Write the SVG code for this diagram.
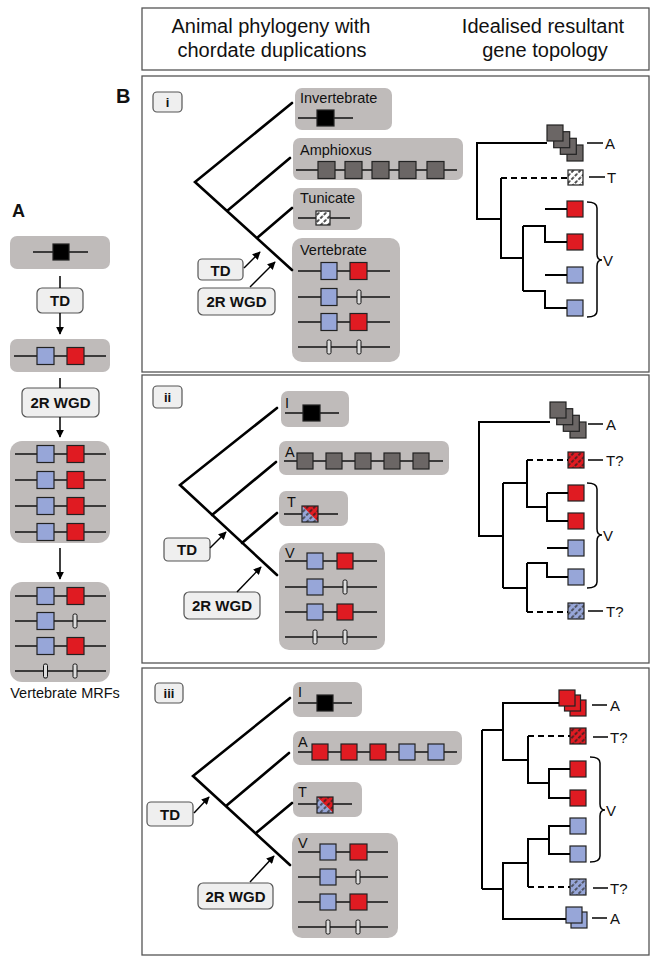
<svg xmlns="http://www.w3.org/2000/svg" width="655" height="961" viewBox="0 0 655 961">
<style>
text{font-family:"Liberation Sans",Arial,sans-serif;fill:#111}
.pb{fill:#fff;stroke:#555;stroke-width:1.3}
.gb{fill:#bfbbba}
.lb{fill:#efefef;stroke:#555;stroke-width:1.2}
.gl{stroke:#111;stroke-width:1.5}
.sq{stroke:#222;stroke-width:1.2}
.bl{fill:#97a6d8}.rd{fill:#e01b22}.dk{fill:#6b6665}.bk{fill:#000}
.tk{fill:#ddd;stroke:#111;stroke-width:1}
.ph{stroke:#000;stroke-width:2.6;fill:none;stroke-linecap:round}
.gt{stroke:#000;stroke-width:2;fill:none}
.ds{stroke-dasharray:6 4}
.ar{stroke:#000;stroke-width:1.5;fill:none}
.br{stroke:#000;stroke-width:1.5;fill:none}
.sp{font-size:14.5px}
.lt{font-size:15px;font-weight:bold;text-anchor:middle}
.pl{font-size:13px;font-weight:bold;text-anchor:middle}
.tl{font-size:15px}
.hd{font-size:20px;text-anchor:middle}
</style>
<defs>
<marker id="ah" viewBox="0 0 10 10" refX="9" refY="5" markerWidth="8" markerHeight="8" markerUnits="userSpaceOnUse" orient="auto"><path d="M0,0 L10,5 L0,10 z" fill="#000"/></marker>
<pattern id="hw" width="5" height="5" patternUnits="userSpaceOnUse" patternTransform="rotate(45)"><rect width="5" height="5" fill="#fff"/><line x1="1" y1="0" x2="1" y2="5" stroke="#222" stroke-width="1.6" stroke-dasharray="3 1.5"/></pattern>
<pattern id="hr" width="5" height="5" patternUnits="userSpaceOnUse" patternTransform="rotate(45)"><rect width="5" height="5" fill="#e01b22"/><line x1="1" y1="0" x2="1" y2="5" stroke="#222" stroke-width="1.4" stroke-dasharray="3 1.5"/></pattern>
<pattern id="hb" width="5" height="5" patternUnits="userSpaceOnUse" patternTransform="rotate(45)"><rect width="5" height="5" fill="#97a6d8"/><line x1="1" y1="0" x2="1" y2="5" stroke="#333" stroke-width="1.4" stroke-dasharray="3 1.5"/></pattern>
</defs>

<!-- header -->
<g id="header">
<rect class="pb" x="142" y="8" width="507" height="62"/>
<text class="hd" x="271" y="33">Animal phylogeny with</text>
<text class="hd" x="272" y="57">chordate duplications</text>
<text class="hd" x="543" y="33">Idealised resultant</text>
<text class="hd" x="545" y="57">gene topology</text>
</g>
<text x="116" y="103" style="font-size:20px;font-weight:bold">B</text>
<text x="12" y="217" style="font-size:18px;font-weight:bold">A</text>

<!-- panel boxes -->
<rect class="pb" x="142" y="76" width="507" height="296"/>
<rect class="pb" x="142" y="375" width="507" height="288"/>
<rect class="pb" x="142" y="668" width="507" height="287"/>

<!-- ===== Panel A ===== -->
<g id="A-ancestor">
<rect class="gb" x="10" y="236" width="100" height="33" rx="7"/>
<line class="gl" x1="33" y1="252" x2="88" y2="252"/>
<rect class="sq bk" x="53" y="244" width="16" height="16"/>
</g>
<g id="A-TD"><rect class="lb" x="37" y="288" width="46" height="25" rx="5"/><text class="lt" x="60" y="306">TD</text></g>
<g id="A-tandem">
<rect class="gb" x="10" y="339" width="100" height="33" rx="7"/>
<line class="gl" x1="14" y1="356" x2="106" y2="356"/>
<rect class="sq bl" x="37" y="347.5" width="17" height="17"/><rect class="sq rd" x="67" y="347.5" width="17" height="17"/>
</g>
<g id="A-WGD"><rect class="lb" x="22" y="388" width="77" height="29" rx="5"/><text class="lt" x="60.5" y="408">2R WGD</text></g>
<g id="A-four">
<rect class="gb" x="10" y="441" width="100" height="102" rx="12"/>
<line class="gl" x1="15" y1="454" x2="106" y2="454"/><rect class="sq bl" x="37" y="445.5" width="17" height="17"/><rect class="sq rd" x="67" y="445.5" width="17" height="17"/>
<line class="gl" x1="15" y1="480" x2="106" y2="480"/><rect class="sq bl" x="37" y="471.5" width="17" height="17"/><rect class="sq rd" x="67" y="471.5" width="17" height="17"/>
<line class="gl" x1="15" y1="506" x2="106" y2="506"/><rect class="sq bl" x="37" y="497.5" width="17" height="17"/><rect class="sq rd" x="67" y="497.5" width="17" height="17"/>
<line class="gl" x1="15" y1="532" x2="106" y2="532"/><rect class="sq bl" x="37" y="523.5" width="17" height="17"/><rect class="sq rd" x="67" y="523.5" width="17" height="17"/>
</g>
<g id="A-MRF">
<rect class="gb" x="10" y="582" width="100" height="100" rx="12"/>
<line class="gl" x1="15" y1="596" x2="106" y2="596"/><rect class="sq bl" x="37" y="587.5" width="17" height="17"/><rect class="sq rd" x="67" y="587.5" width="17" height="17"/>
<line class="gl" x1="15" y1="621" x2="106" y2="621"/><rect class="sq bl" x="37" y="612.5" width="17" height="17"/><rect class="tk" x="73" y="614" width="4" height="14" rx="1.5"/>
<line class="gl" x1="15" y1="646" x2="106" y2="646"/><rect class="sq bl" x="37" y="637.5" width="17" height="17"/><rect class="sq rd" x="67" y="637.5" width="17" height="17"/>
<line class="gl" x1="15" y1="671" x2="106" y2="671"/><rect class="tk" x="43.5" y="664" width="4" height="14" rx="1.5"/><rect class="tk" x="73" y="664" width="4" height="14" rx="1.5"/>
<text x="65" y="698" style="font-size:14.5px;text-anchor:middle">Vertebrate MRFs</text>
</g>

<!-- ===== Panel i ===== -->
<g id="i-label"><rect class="lb" x="153" y="92" width="29" height="20" rx="4"/><text class="pl" x="167.5" y="107">i</text></g>
<g id="i-invert">
<rect class="gb" x="295" y="88" width="97" height="42" rx="7"/>
<text class="sp" x="300" y="103">Invertebrate</text>
<line class="gl" x1="298" y1="118" x2="353" y2="118"/>
<rect class="sq bk" x="317" y="110" width="17" height="16"/>
</g>
<g id="i-amphi">
<rect class="gb" x="293" y="138" width="170" height="42" rx="7"/>
<text class="sp" x="300" y="155">Amphioxus</text>
<line class="gl" x1="296" y1="170" x2="457" y2="170"/>
<rect class="sq dk" x="318" y="161.5" width="17" height="17"/><rect class="sq dk" x="345" y="161.5" width="17" height="17"/><rect class="sq dk" x="372" y="161.5" width="17" height="17"/><rect class="sq dk" x="399" y="161.5" width="17" height="17"/><rect class="sq dk" x="427" y="161.5" width="17" height="17"/>
</g>
<g id="i-tunic">
<rect class="gb" x="293" y="188" width="69" height="42" rx="7"/>
<text class="sp" x="300" y="203">Tunicate</text>
<line class="gl" x1="298" y1="218" x2="350" y2="218"/>
<rect class="sq" fill="url(#hw)" x="316" y="211" width="14" height="14"/>
</g>
<g id="i-vert">
<rect class="gb" x="292" y="238" width="108" height="124" rx="10"/>
<text class="sp" x="300" y="255">Vertebrate</text>
<line class="gl" x1="298" y1="271" x2="390" y2="271"/><rect class="sq bl" x="321" y="262.5" width="16" height="17"/><rect class="sq rd" x="350" y="262.5" width="17" height="17"/>
<line class="gl" x1="298" y1="297" x2="390" y2="297"/><rect class="sq bl" x="321" y="288.5" width="16" height="17"/><rect class="tk" x="357" y="290" width="4" height="14" rx="1.5"/>
<line class="gl" x1="298" y1="322" x2="390" y2="322"/><rect class="sq bl" x="321" y="313.5" width="16" height="17"/><rect class="sq rd" x="350" y="313.5" width="17" height="17"/>
<line class="gl" x1="298" y1="347" x2="390" y2="347"/><rect class="tk" x="327" y="340" width="4" height="14" rx="1.5"/><rect class="tk" x="357" y="340" width="4" height="14" rx="1.5"/>
</g>
<g id="i-TD"><rect class="lb" x="198" y="259" width="45" height="21" rx="4"/><text class="lt" x="220.5" y="275.5">TD</text></g>
<g id="i-WGD"><rect class="lb" x="198" y="288" width="77" height="27" rx="5"/><text class="lt" x="236.5" y="307">2R WGD</text></g>
<g id="i-leaves">
<rect class="sq dk" x="567" y="145" width="16" height="16"/><rect class="sq dk" x="560.3" y="138.3" width="16" height="16"/><rect class="sq dk" x="553.7" y="131.7" width="16" height="16"/><rect class="sq dk" x="547" y="125" width="16" height="16"/>
<line class="br" x1="587" y1="143" x2="603" y2="143"/><text class="tl" x="605" y="148.5">A</text>
<rect class="sq" fill="url(#hw)" x="568" y="170" width="15" height="15"/>
<line class="br" x1="589" y1="177" x2="605" y2="177"/><text class="tl" x="607" y="182.5">T</text>
<rect class="sq rd" x="567" y="201" width="16" height="16"/><rect class="sq rd" x="567" y="234" width="16" height="16"/>
<rect class="sq bl" x="567" y="267" width="16" height="16"/><rect class="sq bl" x="567" y="300" width="16" height="16"/>
<path class="br" d="M587,202 Q597,202 597,208 V254 Q597,260 602,260 Q597,260 597,266 V311 Q597,317 587,317"/>
<text class="tl" x="603" y="265.5">V</text>
</g>

<!-- ===== Panel ii ===== -->
<g id="ii-label"><rect class="lb" x="153" y="386" width="29" height="22" rx="4"/><text class="pl" x="167.5" y="402">ii</text></g>
<g id="ii-invert">
<rect class="gb" x="281" y="391" width="68" height="36" rx="7"/>
<text class="sp" x="285" y="408">I</text>
<line class="gl" x1="285" y1="413" x2="339" y2="413"/>
<rect class="sq bk" x="303" y="405" width="17" height="16"/>
</g>
<g id="ii-amphi">
<rect class="gb" x="279" y="441" width="170" height="34" rx="7"/>
<text class="sp" x="285" y="457">A</text>
<line class="gl" x1="284" y1="461" x2="443" y2="461"/>
<rect class="sq dk" x="297" y="453" width="16" height="16"/><rect class="sq dk" x="326" y="453" width="16" height="16"/><rect class="sq dk" x="355" y="453" width="16" height="16"/><rect class="sq dk" x="384" y="453" width="16" height="16"/><rect class="sq dk" x="413" y="453" width="16" height="16"/>
</g>
<g id="ii-tunic">
<rect class="gb" x="279" y="491" width="69" height="35" rx="7"/>
<text class="sp" x="287" y="507">T</text>
<line class="gl" x1="284" y1="514" x2="338" y2="514"/>
<polygon points="302,506 318,506 318,522" fill="url(#hr)"/><polygon points="302,506 302,522 318,522" fill="url(#hb)"/>
<rect class="sq" fill="none" x="302" y="506" width="16" height="16"/>
</g>
<g id="ii-vert">
<rect class="gb" x="279" y="543" width="106" height="107" rx="10"/>
<text class="sp" x="285" y="558">V</text>
<line class="gl" x1="285" y1="561" x2="377" y2="561"/><rect class="sq bl" x="307" y="553" width="16" height="16"/><rect class="sq rd" x="337" y="553" width="16" height="16"/>
<line class="gl" x1="285" y1="587" x2="377" y2="587"/><rect class="sq bl" x="307" y="579" width="16" height="16"/><rect class="tk" x="343" y="580" width="4" height="14" rx="1.5"/>
<line class="gl" x1="285" y1="612" x2="377" y2="612"/><rect class="sq bl" x="307" y="604" width="16" height="16"/><rect class="sq rd" x="337" y="604" width="16" height="16"/>
<line class="gl" x1="285" y1="637" x2="377" y2="637"/><rect class="tk" x="313" y="630" width="4" height="14" rx="1.5"/><rect class="tk" x="343" y="630" width="4" height="14" rx="1.5"/>
</g>
<g id="ii-TD"><rect class="lb" x="164" y="538" width="46" height="23" rx="4"/><text class="lt" x="187" y="555">TD</text></g>
<g id="ii-WGD"><rect class="lb" x="184" y="592" width="76" height="27" rx="5"/><text class="lt" x="222" y="611">2R WGD</text></g>
<g id="ii-leaves">
<rect class="sq dk" x="570" y="422" width="16" height="16"/><rect class="sq dk" x="563.3" y="415.3" width="16" height="16"/><rect class="sq dk" x="556.7" y="408.7" width="16" height="16"/><rect class="sq dk" x="550" y="402" width="16" height="16"/>
<line class="br" x1="588" y1="424" x2="603" y2="424"/><text class="tl" x="606" y="429.5">A</text>
<rect class="sq" fill="url(#hr)" x="568" y="452" width="16" height="16"/>
<line class="br" x1="588" y1="460" x2="603" y2="460"/><text class="tl" x="606" y="465.5">T?</text>
<rect class="sq rd" x="568" y="485" width="16" height="16"/><rect class="sq rd" x="568" y="513" width="16" height="16"/>
<rect class="sq bl" x="568" y="540" width="16" height="16"/><rect class="sq bl" x="568" y="569" width="16" height="16"/>
<rect class="sq" fill="url(#hb)" x="568" y="603" width="16" height="16"/>
<line class="br" x1="588" y1="611" x2="603" y2="611"/><text class="tl" x="606" y="616.5">T?</text>
<path class="br" d="M587,483 Q597,483 597,489 V529 Q597,535 602,535 Q597,535 597,541 V582 Q597,588 587,588"/>
<text class="tl" x="603" y="540.5">V</text>
</g>

<!-- ===== Panel iii ===== -->
<g id="iii-label"><rect class="lb" x="155" y="683" width="28" height="20" rx="4"/><text class="pl" x="169" y="698">iii</text></g>
<g id="iii-invert">
<rect class="gb" x="293" y="682" width="69" height="35" rx="7"/>
<text class="sp" x="298" y="697">I</text>
<line class="gl" x1="298" y1="703" x2="352" y2="703"/>
<rect class="sq bk" x="317" y="695" width="16" height="16"/>
</g>
<g id="iii-amphi">
<rect class="gb" x="293" y="731" width="169" height="34" rx="7"/>
<text class="sp" x="298" y="747">A</text>
<line class="gl" x1="298" y1="752" x2="457" y2="752"/>
<rect class="sq rd" x="312" y="744" width="16" height="16"/><rect class="sq rd" x="341" y="744" width="16" height="16"/><rect class="sq rd" x="370" y="744" width="16" height="16"/><rect class="sq bl" x="399" y="744" width="16" height="16"/><rect class="sq bl" x="428" y="744" width="16" height="16"/>
</g>
<g id="iii-tunic">
<rect class="gb" x="293" y="782" width="69" height="35" rx="7"/>
<text class="sp" x="298" y="797">T</text>
<line class="gl" x1="298" y1="804" x2="352" y2="804"/>
<polygon points="317,797 333,797 333,813" fill="url(#hr)"/><polygon points="317,797 317,813 333,813" fill="url(#hb)"/>
<rect class="sq" fill="none" x="317" y="797" width="16" height="16"/>
</g>
<g id="iii-vert">
<rect class="gb" x="292" y="833" width="106" height="105" rx="10"/>
<text class="sp" x="298" y="848">V</text>
<line class="gl" x1="298" y1="852" x2="388" y2="852"/><rect class="sq bl" x="320" y="844" width="16" height="16"/><rect class="sq rd" x="350" y="844" width="17" height="16"/>
<line class="gl" x1="298" y1="877" x2="388" y2="877"/><rect class="sq bl" x="320" y="869" width="16" height="16"/><rect class="tk" x="356" y="870" width="4" height="14" rx="1.5"/>
<line class="gl" x1="298" y1="902" x2="388" y2="902"/><rect class="sq bl" x="320" y="894" width="16" height="16"/><rect class="sq rd" x="350" y="894" width="17" height="16"/>
<line class="gl" x1="298" y1="927" x2="388" y2="927"/><rect class="tk" x="326" y="920" width="4" height="14" rx="1.5"/><rect class="tk" x="356" y="920" width="4" height="14" rx="1.5"/>
</g>
<g id="iii-TD"><rect class="lb" x="147" y="802" width="46" height="24" rx="4"/><text class="lt" x="170" y="819.5">TD</text></g>
<g id="iii-WGD"><rect class="lb" x="198" y="883" width="75" height="26" rx="5"/><text class="lt" x="235.5" y="901.5">2R WGD</text></g>
<g id="iii-leaves">
<rect class="sq rd" x="570" y="700" width="16" height="16"/><rect class="sq rd" x="564.5" y="695" width="16" height="16"/><rect class="sq rd" x="559" y="690" width="16" height="16"/>
<line class="br" x1="592" y1="705" x2="607" y2="705"/><text class="tl" x="610" y="710.5">A</text>
<rect class="sq" fill="url(#hr)" x="570" y="728" width="16" height="16"/>
<line class="br" x1="593" y1="737" x2="608" y2="737"/><text class="tl" x="610" y="742.5">T?</text>
<rect class="sq rd" x="570" y="761" width="16" height="16"/><rect class="sq rd" x="570" y="790" width="16" height="16"/>
<rect class="sq bl" x="570" y="818" width="16" height="16"/><rect class="sq bl" x="570" y="846" width="16" height="16"/>
<rect class="sq" fill="url(#hb)" x="570" y="879" width="16" height="16"/>
<line class="br" x1="593" y1="888" x2="608" y2="888"/><text class="tl" x="610" y="893.5">T?</text>
<rect class="sq bl" x="571" y="912" width="16" height="16"/><rect class="sq bl" x="566" y="907" width="16" height="16"/>
<line class="br" x1="592" y1="918" x2="607" y2="918"/><text class="tl" x="610" y="923.5">A</text>
<path class="br" d="M590,757 Q600,757 600,763 V804 Q600,810 605,810 Q600,810 600,816 V856 Q600,862 590,862"/>
<text class="tl" x="606" y="815.5">V</text>
</g>

<!-- ===== connectors ===== -->
<g id="connectors">
<!-- panel A -->
<line class="ar" x1="60" y1="276" x2="60" y2="288"/>
<line class="ar" x1="60" y1="313" x2="60" y2="334" marker-end="url(#ah)"/>
<line class="ar" x1="60" y1="378" x2="60" y2="388"/>
<line class="ar" x1="60" y1="417" x2="60" y2="437" marker-end="url(#ah)"/>
<line class="ar" x1="60" y1="548" x2="60" y2="579" marker-end="url(#ah)"/>
<!-- panel i phylogeny -->
<path class="ph" d="M292,103 L195,182 L292,270 M227,211 L290,158 M257,238 L292,208"/>
<line class="ar" x1="244" y1="268" x2="260" y2="252" marker-end="url(#ah)"/>
<line class="ar" x1="250" y1="287" x2="275" y2="262" marker-end="url(#ah)"/>
<!-- panel i gene tree -->
<path class="gt" d="M547,143 H477 V219 H501 M501,178 V258 H523 M523,226 V291 M523,226 H545 V242 H567 M545,209 H567 M523,291 H545 V308 H567 M545,275 H567"/>
<line class="gt ds" x1="501" y1="178" x2="568" y2="178"/>
<!-- panel ii phylogeny -->
<path class="ph" d="M277,408 L180,485 L277,575 M212,515 L276,462 M242,543 L277,513"/>
<line class="ar" x1="210" y1="548" x2="226" y2="532" marker-end="url(#ah)"/>
<line class="ar" x1="237" y1="592" x2="261" y2="567" marker-end="url(#ah)"/>
<!-- panel ii gene tree -->
<path class="gt" d="M550,422 H479 V536 H503 M503,483 V588 M503,483 H527 V507 M527,460 V507 H547 V521 H568 M547,493 V507 M547,493 H568 M503,588 H527 V612 M527,563 V588 M527,563 H547 V577 H568 M547,548 H568"/>
<line class="gt ds" x1="527" y1="460" x2="568" y2="460"/>
<line class="gt ds" x1="527" y1="612" x2="568" y2="612"/>
<!-- panel iii phylogeny -->
<path class="ph" d="M290,698 L193,776 L290,865 M226,806 L289,753 M256,833 L292,803"/>
<line class="ar" x1="194" y1="813" x2="209" y2="797" marker-end="url(#ah)"/>
<line class="ar" x1="250" y1="882" x2="274" y2="856" marker-end="url(#ah)"/>
<!-- panel iii gene tree -->
<path class="gt" d="M482,730 V889 M482,730 H503 V703 H559 M503,730 V760 H528 V736 M528,760 V783 H549 V769 H570 M549,783 V798 H570 M482,889 H503 V863 H528 V839 H549 V826 H570 M549,839 V854 H570 M528,863 V887 M503,889 V919 H566"/>
<line class="gt ds" x1="528" y1="736" x2="570" y2="736"/>
<line class="gt ds" x1="528" y1="887" x2="570" y2="887"/>
</g>
</svg>
